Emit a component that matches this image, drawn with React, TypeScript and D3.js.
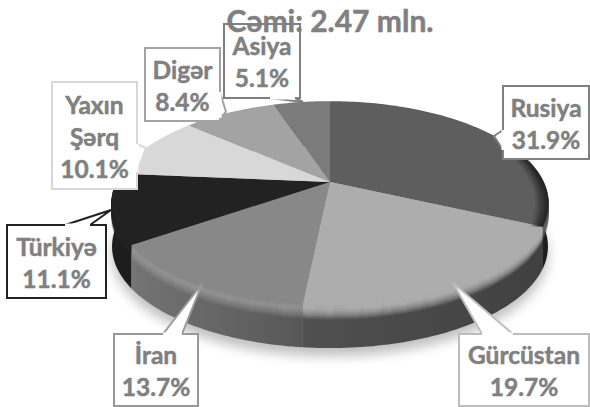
import React from "react";
import * as d3 from "d3";

const title = "Cəmi: 2.47 mln.";
const categories = ["Rusiya", "Gürcüstan", "İran", "Türkiyə", "Yaxın Şərq", "Digər", "Asiya"];
const shares = [31.9, 19.7, 13.7, 11.1, 10.1, 8.4, 5.1];
const shareLabels = ["31.9%", "19.7%", "13.7%", "11.1%", "10.1%", "8.4%", "5.1%"];
const labelLines = [["Rusiya"], ["Gürcüstan"], ["İran"], ["Türkiyə"], ["Yaxın", "Şərq"], ["Digər"], ["Asiya"]];

const faceColors = ["#5e5e5e", "#adadad", "#888888", "#222222", "#d8d8d8", "#a3a3a3", "#7b7b7b"];
const sideLeft = ["#3a3a3a", "#505050", "#747474", "#1d1d1d", "#999999", "#777777", "#555555"];
const sideRight = ["#1c1c1c", "#404040", "#575757", "#1d1d1d", "#999999", "#777777", "#555555"];
const highlights = [0, 0, 0.22, 0, 0, 0, 0];
const borderColors = ["#808080", "#bdbdbd", "#999999", "#222222", "#d8d8d8", "#a3a3a3", "#808080"];

// box [x, y, w, h], tail [x1, y1, tipX, tipY, x2, y2]
const boxes = [
  [503, 86, 86, 73], [459, 334, 130, 72], [114, 334, 84, 72], [7, 225, 99, 73],
  [52, 82, 85, 107], [145, 48, 75, 73], [224, 24, 76, 74],
];
const tails = [
  [503, 130, 494, 136, 503, 150], [482, 334, 453, 283, 513, 334], [163, 334, 202, 284, 182, 334],
  [65, 225, 111, 210, 90, 225], [137, 144, 146, 148, 137, 172], [220, 92, 226, 112, 220, 118],
  [270, 98, 303, 102, 295, 98],
];

const CX = 330, CY = 182, RX = 213, RY = 97, P = -0.212, DEPTH = 43;

function project(angle: number): [number, number] {
  const u = Math.sin(angle), v = -Math.cos(angle);
  const w = 1 + P * v;
  return [CX + (RX * u) / w, CY + (RY * v) / w];
}

function rim(a0: number, a1: number, dy = 0, inset = 0): [number, number][] {
  const n = Math.max(2, Math.ceil((a1 - a0) / 0.02));
  return d3.range(n + 1).map((i) => {
    const [x, y] = project(a0 + ((a1 - a0) * i) / n);
    return [CX + (x - CX) * (1 - inset / 218), y + dy] as [number, number];
  });
}

const line = d3.line<[number, number]>().x((d) => d[0]).y((d) => d[1]);
const bevelSteps = d3.range(0, 15);
const bevelOpacity = d3.scaleLinear().domain([0, 3, 15]).range([1, 1, 0]);
const insetSteps = d3.range(0, 14);
const insetOpacity = d3.scaleLinear().domain([0, 14]).range([0.5, 0]);

export default function App() {
  const arcs = d3.pie<number>().sort(null).startAngle(0).endAngle(2 * Math.PI)(shares);
  const bodyPath = line(rim(0, 2 * Math.PI, DEPTH)) + "Z";
  return (
    <svg width={590} height={407} style={{ position: "absolute", left: 0, top: 0, display: "block", background: "#fff" }}>
      <defs>
        <filter id="soft" x="-20%" y="-20%" width="140%" height="140%">
          <feGaussianBlur stdDeviation="6" />
        </filter>
        <linearGradient id="edgeDark" gradientUnits="userSpaceOnUse" x1={495} x2={540} y1={0} y2={0}>
          <stop offset="0" stopColor="#000" stopOpacity={0} />
          <stop offset="1" stopColor="#000" stopOpacity={1} />
        </linearGradient>
        {arcs.map((a, i) => {
          const pts = rim(a.startAngle, a.endAngle);
          const xs = d3.extent(pts, (p) => p[0]) as [number, number];
          return (
            <linearGradient key={i} id={`side${i}`} gradientUnits="userSpaceOnUse" x1={xs[0]} x2={xs[1]} y1={0} y2={0}>
              <stop offset="0" stopColor={sideLeft[i]} />
              <stop offset="1" stopColor={sideRight[i]} />
            </linearGradient>
          );
        })}
      </defs>
      <path d={bodyPath} transform="translate(0,8)" fill="#000" opacity={0.25} filter="url(#soft)" />
      {arcs.map((a, i) => {
        const top = rim(a.startAngle, a.endAngle);
        const bottom = rim(a.startAngle, a.endAngle, DEPTH).reverse();
        return <path key={i} d={line([...top, ...bottom]) + "Z"} fill={`url(#side${i})`} />;
      })}
      {arcs.map((a, i) => {
        const face = d3.color(faceColors[i])!;
        const bevel = d3.scaleLinear<string>().domain([0, 4, 15])
          .range([face.formatHex(), face.brighter(highlights[i]).formatHex(), face.formatHex()]);
        return bevelSteps.map((d) => (
          <path key={`${i}-${d}`} d={line(rim(a.startAngle, a.endAngle, d))!} fill="none"
            stroke={bevel(d)} strokeOpacity={bevelOpacity(d)} strokeWidth={1.6} />
        ));
      })}
      {arcs.map((a, i) => (
        <path key={i} d={line([[CX, CY], ...rim(a.startAngle, a.endAngle)]) + "Z"} fill={faceColors[i]} />
      ))}
      {insetSteps.map((s) => (
        <path key={s} d={line(rim(arcs[0].startAngle, arcs[0].endAngle, 0, s))!} fill="none"
          stroke="url(#edgeDark)" strokeOpacity={insetOpacity(s)} strokeWidth={1.5} />
      ))}
      {categories.map((c, i) => {
        const [x, y, w, h] = boxes[i];
        const t = tails[i];
        const lines = [...labelLines[i], shareLabels[i]];
        const step = 32;
        const firstBase = y + h / 2 - ((lines.length - 1) * step) / 2 + 10;
        return (
          <g key={c}>
            <rect x={x} y={y} width={w} height={h} fill="#fff" stroke={borderColors[i]} strokeWidth={2} />
            <path d={`M${t[0]},${t[1]}L${t[2]},${t[3]}L${t[4]},${t[5]}`} fill="#fff" stroke={borderColors[i]} strokeWidth={2} />
            <path d={`M${t[0]},${t[1]}L${t[4]},${t[5]}`} stroke="#fff" strokeWidth={3} />
            {lines.map((l, j) => (
              <text key={j} x={x + w / 2} y={firstBase + j * step} textAnchor="middle"
                fontFamily="Lato" fontWeight={700} fontSize={24.5} fill="#808080"
                stroke="#808080" strokeWidth={0.5}>{l}</text>
            ))}
          </g>
        );
      })}
      <text x={330} y={32} textAnchor="middle" fontFamily="Lato" fontWeight={700} fontSize={30} fill="#808080"
        stroke="#808080" strokeWidth={0.5}>{title}</text>
    </svg>
  );
}
